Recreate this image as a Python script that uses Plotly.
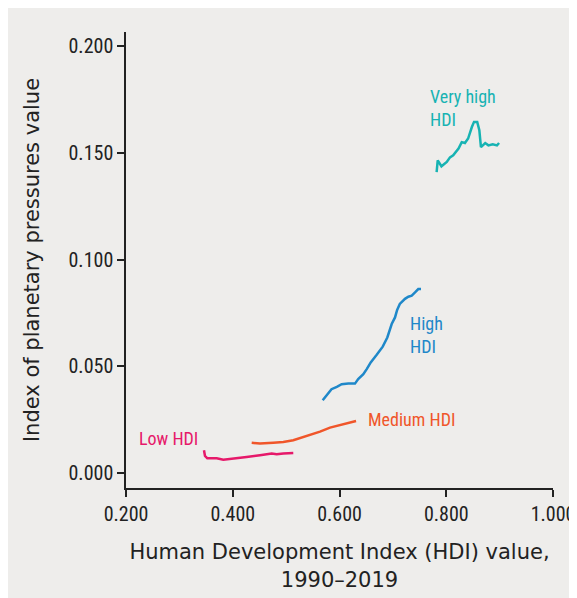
import plotly.graph_objects as go

# Very high HDI
vh_x = [0.782, 0.784, 0.791, 0.801, 0.807, 0.813, 0.823, 0.829, 0.835, 0.841, 0.848, 0.852, 0.858, 0.862, 0.865, 0.873, 0.879, 0.887, 0.895, 0.899]
vh_y = [0.1410, 0.1465, 0.1437, 0.1457, 0.1479, 0.1488, 0.1520, 0.1550, 0.1546, 0.1567, 0.1621, 0.1645, 0.1645, 0.1606, 0.1527, 0.1546, 0.1535, 0.1540, 0.1535, 0.1546]

# High HDI
hi_x = [0.5685, 0.576, 0.585, 0.595, 0.604, 0.6165, 0.629, 0.635, 0.6446, 0.651, 0.6585, 0.6697, 0.681, 0.6896, 0.6933, 0.6978, 0.704, 0.708, 0.713, 0.7227, 0.729, 0.7353, 0.7415, 0.7476, 0.7527]
hi_y = [0.0341, 0.0366, 0.0393, 0.0404, 0.0416, 0.0419, 0.0419, 0.0440, 0.0463, 0.0487, 0.0518, 0.0554, 0.0592, 0.0635, 0.0667, 0.0698, 0.0729, 0.0764, 0.0792, 0.0816, 0.0826, 0.0831, 0.0846, 0.0862, 0.0862]

# Medium HDI
me_x = [0.4355, 0.451, 0.476, 0.4947, 0.5134, 0.5292, 0.548, 0.5635, 0.5822, 0.601, 0.6197, 0.631]
me_y = [0.0142, 0.0138, 0.0142, 0.0146, 0.0154, 0.0166, 0.0182, 0.0194, 0.0213, 0.0225, 0.0239, 0.0244]

# Low HDI
lo_x = [0.3461, 0.348, 0.3523, 0.370, 0.3823, 0.401, 0.426, 0.451, 0.4636, 0.473, 0.4823, 0.4947, 0.5134]
lo_y = [0.0107, 0.0080, 0.0069, 0.0069, 0.0062, 0.0069, 0.0075, 0.0083, 0.0088, 0.0091, 0.0088, 0.0092, 0.0094]

x_ticks = [0.2, 0.4, 0.6, 0.8, 1.0]
y_ticks = [0.0, 0.05, 0.10, 0.15, 0.20]

C_VH = "#17B3B3"
C_HI = "#1F88C9"
C_ME = "#F0562A"
C_LO = "#E6196A"

NARROW = "Liberation Sans Narrow, Roboto Condensed, Roboto, sans-serif"
TITLEF = "DejaVu Sans, sans-serif"

fig = go.Figure()
for xs, ys, c in [(vh_x, vh_y, C_VH), (hi_x, hi_y, C_HI), (me_x, me_y, C_ME), (lo_x, lo_y, C_LO)]:
    fig.add_trace(go.Scatter(x=xs, y=ys, mode="lines", line=dict(color=c, width=2.5), showlegend=False, hoverinfo="skip"))

ann = [
    ("Very high<br>HDI", 0.766, 0.171, C_VH),
    ("High<br>HDI", 0.728, 0.0648, C_HI),
    ("Medium HDI", 0.6497, 0.0249, C_ME),
    ("Low HDI", 0.2206, 0.0164, C_LO),
]
for t, x, y, c in ann:
    fig.add_annotation(x=x, y=y, text=t, showarrow=False, xanchor="left", yanchor="middle", align="left",
                       font=dict(family=NARROW, size=18, color=c))

fig.update_layout(
    width=577, height=598,
    margin=dict(l=118, r=32, t=24, b=118),
    paper_bgcolor="#EEEDEB", plot_bgcolor="#EEEDEB",
    xaxis=dict(range=[0.2, 1.0], tickvals=x_ticks, ticktext=[f"{v:.3f}" for v in x_ticks],
               automargin=False,
               showgrid=False, zeroline=False, showline=True, linecolor="#222", linewidth=1.5,
               ticks="outside", ticklen=7, tickwidth=1.5, tickcolor="#222",
               tickfont=dict(family=NARROW, size=20, color="#222"),
               title=dict(text="Human Development Index (HDI) value,<br>1990–2019",
                          font=dict(family=TITLEF, size=21, color="#222"), standoff=20)),
    yaxis=dict(range=[-0.007, 0.2066], tickvals=y_ticks, ticktext=[f"{v:.3f}" for v in y_ticks],
               automargin=False,
               showgrid=False, zeroline=False, showline=True, linecolor="#222", linewidth=1.5,
               ticks="outside", ticklen=7, tickwidth=1.5, tickcolor="#222",
               tickfont=dict(family=NARROW, size=20, color="#222"),
               title=dict(text="Index of planetary pressures value",
                          font=dict(family=TITLEF, size=21, color="#222"), standoff=23)),
)

fig.write_html("out.html")
